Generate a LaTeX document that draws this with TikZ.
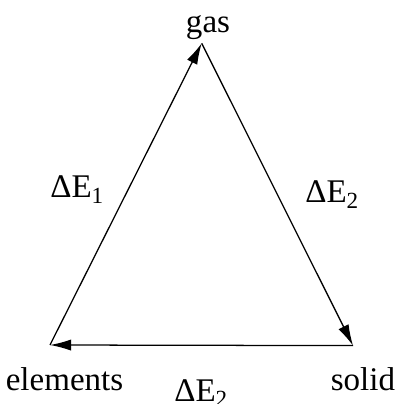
\documentclass[tikz,border=0pt]{standalone}
\usepackage{fontspec}
\setmainfont{Liberation Serif}
\usepackage{tikz}
\usetikzlibrary{arrows.meta}

\tikzset{
  phase/.style={font=\fontsize{23.5}{28}\selectfont, inner sep=0pt},
  energy/.style={font=\fontsize{23.5}{28}\selectfont, inner sep=0pt},
  step arrow/.style={line width=0.9pt, -{Latex[length=15pt,width=8pt]}}
}

\begin{document}
\begin{tikzpicture}[scale=0.5]
  \useasboundingbox (0,0) rectangle (19.9,20.2);
  % corners of the cycle
  \coordinate (gasV) at (10.085,18.035);
  \coordinate (elemV) at (2.5,2.95);
  \coordinate (solidV) at (17.65,2.92);
  % labels
  \node[phase,anchor=base] (gas) at (10.4,18.55) {gas};
  \node[phase,anchor=base] (elements) at (3.225,0.65) {elements};
  \node[phase,anchor=base] (solid) at (18.15,0.65) {solid};
  \node[energy,anchor=base west] (dE1) at (2.5,10.3) {ΔE\textsubscript{1}};
  \node[energy,anchor=base west] (dE2) at (15.25,10.05) {ΔE\textsubscript{2}};
  \node[energy,anchor=base west] (dE3) at (8.7,0.12) {ΔE\textsubscript{2}};
  % arrows
  \draw[step arrow] (elemV) -- (gasV);
  \draw[step arrow] (gasV) -- (solidV);
  \draw[step arrow] (solidV) -- (elemV);
\end{tikzpicture}
\end{document}
